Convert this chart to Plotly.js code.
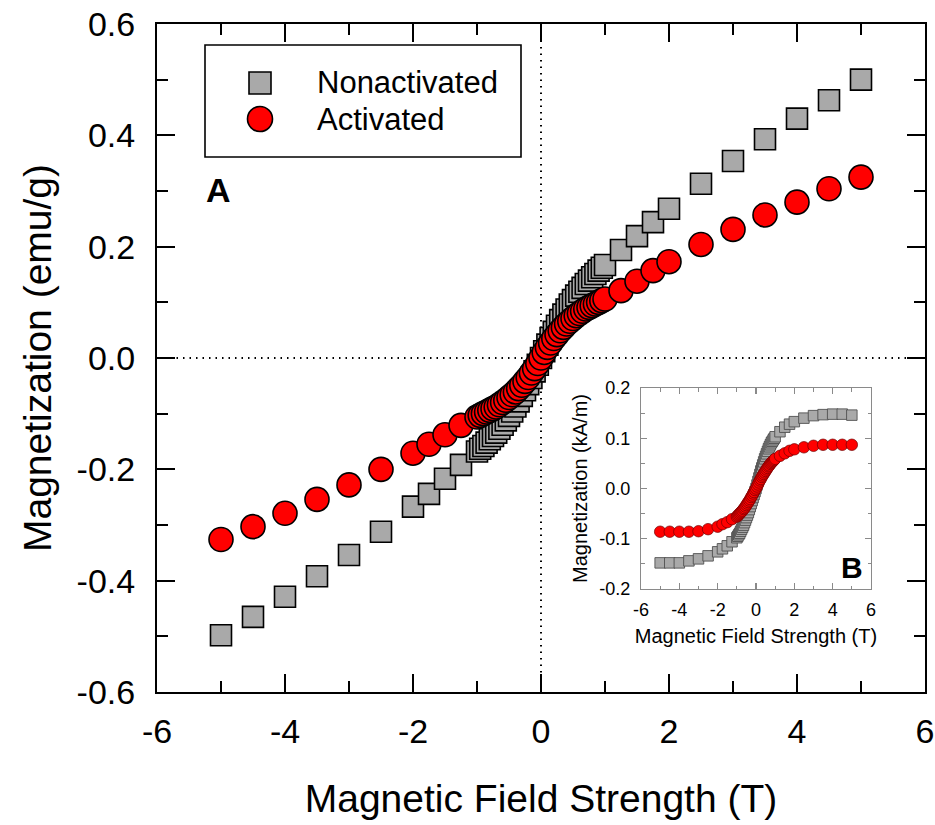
<!DOCTYPE html>
<html>
<head>
<meta charset="utf-8">
<script src="https://cdn.plot.ly/plotly-3.0.1.min.js"></script>
<style>html,body{margin:0;padding:0;background:#fff;}#chart{width:935px;height:825px;}</style>
</head>
<body>
<div id="chart"></div>
<script>
// ---------- data ----------
const fieldT = [-5,-4.5,-4,-3.5,-3,-2.5,-2,-1.75,-1.5,-1.25,
  -1,-0.95,-0.9,-0.85,-0.8,-0.75,-0.7,-0.65,-0.6,-0.55,-0.5,-0.45,-0.4,-0.35,-0.3,-0.25,-0.2,-0.15,-0.1,-0.05,
  0,
  0.05,0.1,0.15,0.2,0.25,0.3,0.35,0.4,0.45,0.5,0.55,0.6,0.65,0.7,0.75,0.8,0.85,0.9,0.95,1,
  1.25,1.5,1.75,2,2.5,3,3.5,4,4.5,5];

const nonactivatedEmu = [-0.498,-0.465,-0.429,-0.392,-0.354,-0.312,-0.267,-0.244,-0.217,-0.192,
  -0.168,-0.163,-0.158,-0.152,-0.146,-0.140,-0.134,-0.127,-0.120,-0.112,-0.104,-0.096,-0.087,-0.078,-0.068,-0.058,-0.047,-0.036,-0.024,-0.012,
  0,
  0.012,0.024,0.036,0.047,0.058,0.068,0.078,0.087,0.096,0.104,0.112,0.119,0.126,0.133,0.139,0.145,0.151,0.157,0.162,0.167,
  0.194,0.219,0.244,0.268,0.313,0.354,0.393,0.430,0.463,0.500];

const activatedEmu = [-0.326,-0.303,-0.279,-0.254,-0.228,-0.200,-0.171,-0.155,-0.138,-0.121,
  -0.106,-0.103,-0.100,-0.097,-0.094,-0.091,-0.088,-0.084,-0.080,-0.076,-0.071,-0.066,-0.061,-0.055,-0.049,-0.042,-0.035,-0.027,-0.019,-0.010,
  0,
  0.010,0.019,0.027,0.035,0.042,0.049,0.055,0.061,0.066,0.071,0.076,0.080,0.084,0.088,0.091,0.094,0.097,0.100,0.103,0.106,
  0.121,0.138,0.157,0.173,0.204,0.231,0.257,0.280,0.304,0.325];

const nonactivatedKAm = [-0.148,-0.148,-0.148,-0.144,-0.140,-0.134,-0.126,-0.120,-0.114,-0.106,
  -0.098,-0.095,-0.092,-0.089,-0.085,-0.081,-0.077,-0.073,-0.068,-0.063,-0.058,-0.053,-0.048,-0.042,-0.036,-0.030,-0.024,-0.018,-0.012,-0.006,
  0,
  0.007,0.014,0.021,0.028,0.035,0.041,0.047,0.053,0.059,0.064,0.069,0.074,0.079,0.083,0.087,0.091,0.094,0.097,0.100,0.103,
  0.113,0.122,0.128,0.133,0.140,0.145,0.147,0.148,0.148,0.146];

const activatedKAm = [-0.086,-0.086,-0.086,-0.086,-0.085,-0.081,-0.076,-0.071,-0.067,-0.061,
  -0.056,-0.054,-0.052,-0.050,-0.048,-0.046,-0.044,-0.041,-0.039,-0.036,-0.033,-0.030,-0.027,-0.024,-0.021,-0.017,-0.014,-0.010,-0.007,-0.003,
  0,
  0.004,0.008,0.012,0.016,0.019,0.023,0.026,0.029,0.032,0.035,0.038,0.041,0.044,0.046,0.049,0.051,0.053,0.055,0.057,0.059,
  0.065,0.070,0.075,0.078,0.082,0.085,0.087,0.087,0.087,0.087];

const seriesNames = ['Nonactivated', 'Activated'];

const mainXTickVals = [-6,-4,-2,0,2,4,6];
const mainXTickText = ['-6','-4','-2','0','2','4','6'];
const mainXMinor = [-5,-3,-1,1,3,5];
const mainYTickVals = [-0.6,-0.4,-0.2,0,0.2,0.4,0.6];
const mainYTickText = ['-0.6','-0.4','-0.2','0.0','0.2','0.4','0.6'];
const mainYMinor = [-0.5,-0.3,-0.1,0.1,0.3,0.5];
const insetYTickVals = [-0.2,-0.1,0,0.1,0.2];
const insetYTickText = ['-0.2','-0.1','0.0','0.1','0.2'];
const insetYMinor = [-0.15,-0.05,0.05,0.15];

// ---------- styling / layout ----------
const FONT = '"Liberation Sans", Arial, sans-serif';
const W = 935, H = 825, ML = 157, MR = 10, MT = 24, MB = 133;
const PW = W - ML - MR, PH = H - MT - MB;
const px = v => (v - ML) / PW;          // pixel x -> paper
const py = v => (H - MB - v) / PH;      // pixel y -> paper

const grayFill = '#a9a9a9', redFill = '#ff0000';

const traces = [
  {x: fieldT, y: nonactivatedEmu, name: seriesNames[0], type: 'scatter', mode: 'markers',
   xaxis: 'x', yaxis: 'y',
   marker: {symbol: 'square', size: 21, color: grayFill, line: {color: '#000', width: 1.6}}},
  {x: fieldT, y: activatedEmu, name: seriesNames[1], type: 'scatter', mode: 'markers',
   xaxis: 'x', yaxis: 'y',
   marker: {symbol: 'circle', size: 24, color: redFill, line: {color: '#000', width: 1.6}}},
  {x: fieldT, y: nonactivatedKAm, name: seriesNames[0], type: 'scatter', mode: 'markers',
   xaxis: 'x2', yaxis: 'y2', showlegend: false,
   marker: {symbol: 'square', size: 10.5, color: grayFill, line: {color: '#505050', width: 0.9}}},
  {x: fieldT, y: activatedKAm, name: seriesNames[1], type: 'scatter', mode: 'markers',
   xaxis: 'x2', yaxis: 'y2', showlegend: false,
   marker: {symbol: 'circle', size: 11.5, color: redFill, line: {color: '#700000', width: 0.7}}}
];

const mainAxisCommon = {
  showline: true, linecolor: '#000', linewidth: 2, mirror: 'ticks',
  ticks: 'inside', ticklen: 18, tickwidth: 2, tickcolor: '#000',
  showgrid: false, zeroline: false, tickmode: 'array',
  tickfont: {family: FONT, size: 34, color: '#000'}
};
const insetAxisCommon = {
  showline: true, linecolor: '#8a8a8a', linewidth: 1.2, mirror: 'ticks',
  ticks: 'inside', ticklen: 6, tickwidth: 1.2, tickcolor: '#8a8a8a',
  showgrid: false, zeroline: false, tickmode: 'array',
  tickfont: {family: FONT, size: 18, color: '#000'}
};

const layout = {
  width: W, height: H,
  margin: {l: ML, r: MR, t: MT, b: MB},
  paper_bgcolor: '#fff', plot_bgcolor: '#fff',
  showlegend: false,
  font: {family: FONT, color: '#000'},
  xaxis: Object.assign({}, mainAxisCommon, {
    domain: [0, 1], anchor: 'y', range: [-6, 6],
    tickvals: mainXTickVals, ticktext: mainXTickText,
    minor: {tickmode: 'array', tickvals: mainXMinor, ticks: 'inside', ticklen: 11, tickwidth: 2, tickcolor: '#000'},
    ticklabelstandoff: 8,
    title: {text: 'Magnetic Field Strength (T)', font: {family: FONT, size: 39, color: '#000'}, standoff: 36}
  }),
  yaxis: Object.assign({}, mainAxisCommon, {
    domain: [0, 1], anchor: 'x', range: [-0.6, 0.6],
    tickvals: mainYTickVals, ticktext: mainYTickText,
    minor: {tickmode: 'array', tickvals: mainYMinor, ticks: 'inside', ticklen: 11, tickwidth: 2, tickcolor: '#000'},
    ticklabelstandoff: 13,
    title: {text: 'Magnetization (emu/g)', font: {family: FONT, size: 39, color: '#000'}, standoff: 13}
  }),
  xaxis2: Object.assign({}, insetAxisCommon, {
    domain: [px(641), px(871)], anchor: 'y2', range: [-6, 6],
    tickvals: mainXTickVals, ticktext: mainXTickText,
    minor: {tickmode: 'array', tickvals: mainXMinor, ticks: 'inside', ticklen: 3.5, tickwidth: 1.2, tickcolor: '#8a8a8a'},
    ticklabelstandoff: 4,
    title: {text: 'Magnetic Field Strength (T)', font: {family: FONT, size: 20, color: '#000'}, standoff: 10}
  }),
  yaxis2: Object.assign({}, insetAxisCommon, {
    domain: [py(589), py(388)], anchor: 'x2', range: [-0.2, 0.2],
    tickvals: insetYTickVals, ticktext: insetYTickText,
    minor: {tickmode: 'array', tickvals: insetYMinor, ticks: 'inside', ticklen: 3.5, tickwidth: 1.2, tickcolor: '#8a8a8a'},
    ticklabelstandoff: 6,
    title: {text: 'Magnetization (kA/m)', font: {family: FONT, size: 20, color: '#000'}, standoff: 6}
  }),
  shapes: [
    // dotted zero lines on the main panel
    {type: 'line', xref: 'x', yref: 'y', x0: 0, x1: 0, y0: -0.6, y1: 0.6, layer: 'below',
     line: {color: '#000', width: 2, dash: '1.5px,5px'}},
    {type: 'line', xref: 'x', yref: 'y', x0: -6, x1: 6, y0: 0, y1: 0, layer: 'below',
     line: {color: '#000', width: 2, dash: '1.5px,5px'}},
    // legend box
    {type: 'rect', xref: 'paper', yref: 'paper', x0: px(205), x1: px(521), y0: py(157), y1: py(45),
     line: {color: '#000', width: 1.6}, fillcolor: '#fff', layer: 'above'},
    // legend symbols
    {type: 'rect', xref: 'paper', yref: 'paper', xsizemode: 'pixel', ysizemode: 'pixel',
     xanchor: px(260), yanchor: py(83), x0: -11, x1: 11, y0: -11, y1: 11,
     fillcolor: grayFill, line: {color: '#000', width: 1.6}, layer: 'above'},
    {type: 'circle', xref: 'paper', yref: 'paper', xsizemode: 'pixel', ysizemode: 'pixel',
     xanchor: px(260), yanchor: py(119), x0: -12.5, x1: 12.5, y0: -12.5, y1: 12.5,
     fillcolor: redFill, line: {color: '#000', width: 1.6}, layer: 'above'}
  ],
  annotations: [
    {xref: 'paper', yref: 'paper', x: px(315), y: py(83), xanchor: 'left', yanchor: 'middle',
     text: seriesNames[0], showarrow: false, font: {family: FONT, size: 31, color: '#000'}},
    {xref: 'paper', yref: 'paper', x: px(315), y: py(119), xanchor: 'left', yanchor: 'middle',
     text: seriesNames[1], showarrow: false, font: {family: FONT, size: 31, color: '#000'}},
    {xref: 'paper', yref: 'paper', x: px(218), y: py(190), xanchor: 'center', yanchor: 'middle',
     text: '<b>A</b>', showarrow: false, font: {family: FONT, size: 34, color: '#000'}},
    {xref: 'paper', yref: 'paper', x: px(852), y: py(567), xanchor: 'center', yanchor: 'middle',
     text: '<b>B</b>', showarrow: false, font: {family: FONT, size: 30, color: '#000'}}
  ]
};

Plotly.newPlot('chart', traces, layout, {staticPlot: true, displayModeBar: false});
</script>
</body>
</html>
